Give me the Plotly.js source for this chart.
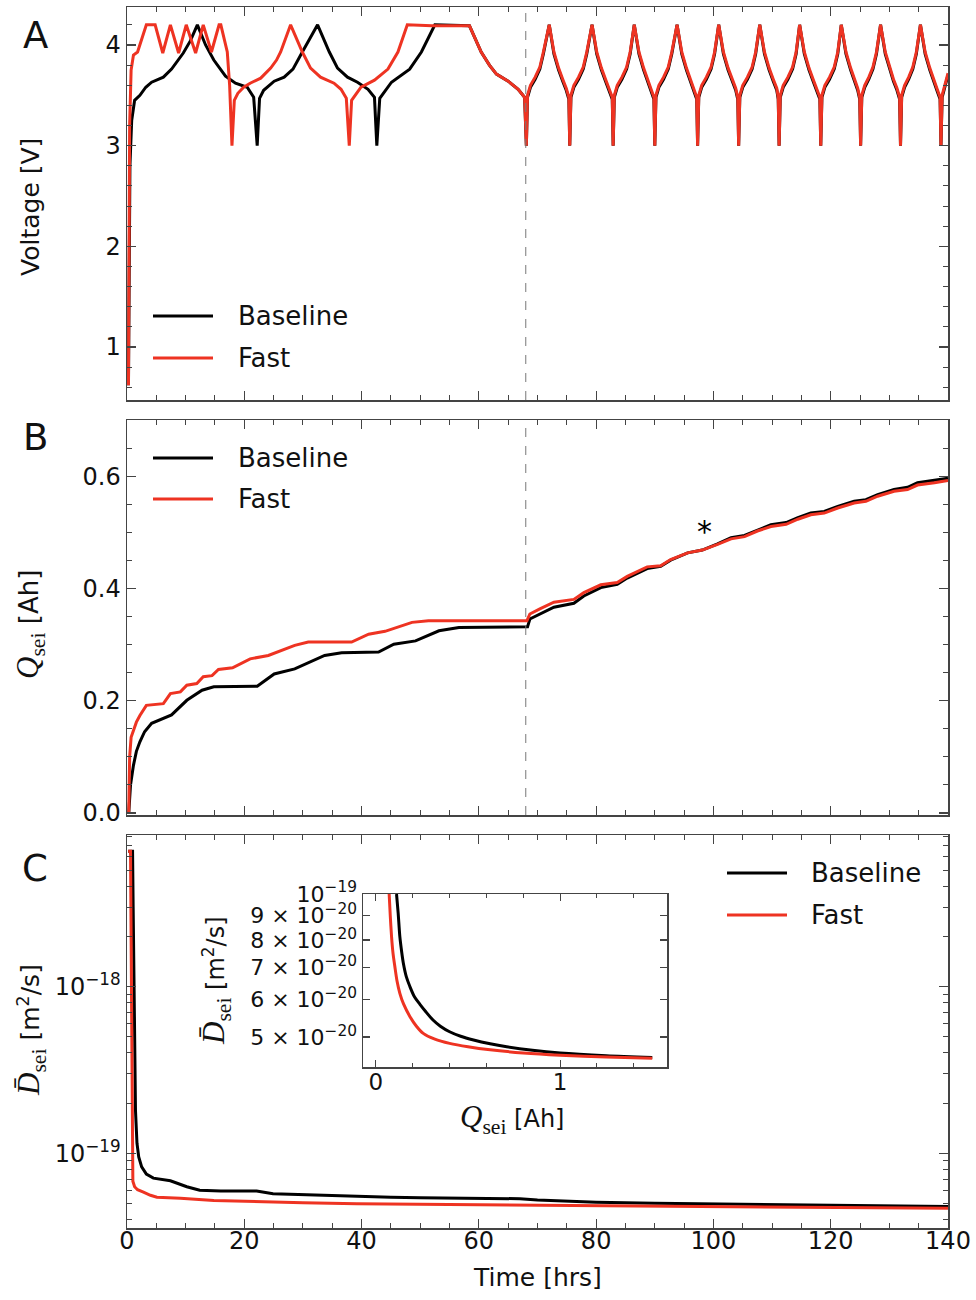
<!DOCTYPE html>
<html><head><meta charset="utf-8">
<script src="https://cdn.plot.ly/plotly-3.0.1.min.js"></script>
<style>body{margin:0;background:#fff}</style>
</head><body><div id="chart" style="width:976px;height:1300px"></div>
<script>
// ---------- Panel A: voltage ----------
const voltTimeBase1 = [0.25,0.5,0.8,1.3,2.2,3.2,4.2,6.2,7.6,9.6,10.8,12.0,13.4,14.8,16.8,18.5,20.5,21.6,22.2,
  22.6,23.3,25.1,26.8,28.3,29.9,32.5,34.5,35.9,37.6,39.3,41.1,42.2,42.6,
  43.1,45.1,46.8,48.2,50.2,52.5,58.4,60.4,61.8,63.0,65.0,66.7,67.8,68.1];
const voltBase1 = [0.62,2.8,3.25,3.45,3.5,3.58,3.63,3.68,3.76,3.92,4.04,4.2,4.0,3.85,3.69,3.62,3.58,3.48,3.0,
  3.47,3.55,3.64,3.68,3.76,3.93,4.2,3.93,3.77,3.68,3.63,3.56,3.48,3.0,
  3.47,3.63,3.7,3.76,3.93,4.2,4.19,3.93,3.8,3.71,3.64,3.56,3.48,3.0];
const voltTimeFast1 = [0.25,0.45,0.7,1.1,1.8,2.5,3.3,4.8,6.1,7.4,8.8,10.1,11.7,13.0,14.4,15.7,16.0,17.1,17.5,17.9,
  18.3,18.9,19.9,21.0,22.8,24.5,25.5,26.2,27.9,29.9,31.3,33.0,35.3,36.5,37.4,37.9,
  38.3,39.9,42.2,44.5,46.2,47.8,52.0,58.4,60.4,61.8,63.0,65.0,66.7,67.8,68.1];
const voltFast1 = [0.62,3.2,3.75,3.9,3.93,4.05,4.2,4.2,3.92,4.2,3.92,4.2,3.92,4.2,3.93,4.2,4.2,3.93,3.6,3.0,
  3.45,3.52,3.58,3.62,3.67,3.77,3.85,3.93,4.2,3.93,3.77,3.68,3.62,3.56,3.47,3.0,
  3.45,3.58,3.65,3.76,3.93,4.2,4.19,4.19,3.93,3.8,3.71,3.64,3.56,3.48,3.0];
const cycleTime = [
  68.3,68.8,69.6,70.4,71.0,72.0,72.8,73.6,74.3,74.9,75.35,75.5,
  75.7,76.2,77.0,77.8,78.4,79.3,80.1,80.9,81.6,82.2,82.75,82.9,
  83.1,83.6,84.4,85.2,85.8,86.5,87.3,88.1,88.8,89.4,89.85,90.0,
  90.2,90.7,91.5,92.3,92.9,93.8,94.6,95.4,96.1,96.7,97.15,97.3,
  97.5,98.0,98.8,99.6,100.2,100.9,101.7,102.5,103.2,103.8,104.15,104.3,
  104.5,105.0,105.8,106.6,107.2,107.9,108.7,109.5,110.2,110.8,111.05,111.2,
  111.4,111.9,112.7,113.5,114.1,114.7,115.5,116.3,117.0,117.6,118.15,118.3,
  118.5,119.0,119.8,120.6,121.2,121.8,122.6,123.4,124.1,124.6,124.95,125.1,
  125.3,125.8,126.5,127.2,127.8,128.5,129.3,130.1,130.7,131.3,131.75,131.9,
  132.1,132.6,133.3,134.0,134.6,135.3,136.1,136.9,137.5,138.1,138.65,138.8,
  139.0,139.5,140.0];
const cycleVoltFast = [
  3.50,3.60,3.68,3.78,3.93,4.20,3.93,3.77,3.66,3.57,3.48,3.00,
  3.50,3.60,3.68,3.78,3.93,4.20,3.93,3.77,3.66,3.57,3.48,3.00,
  3.50,3.60,3.68,3.78,3.93,4.20,3.93,3.77,3.66,3.57,3.48,3.00,
  3.50,3.60,3.68,3.78,3.93,4.20,3.93,3.77,3.66,3.57,3.48,3.00,
  3.50,3.60,3.68,3.78,3.93,4.20,3.93,3.77,3.66,3.57,3.48,3.00,
  3.50,3.60,3.68,3.78,3.93,4.20,3.93,3.77,3.66,3.57,3.48,3.00,
  3.50,3.60,3.68,3.78,3.93,4.20,3.93,3.77,3.66,3.57,3.48,3.00,
  3.50,3.60,3.68,3.78,3.93,4.20,3.93,3.77,3.66,3.57,3.48,3.00,
  3.50,3.60,3.68,3.78,3.93,4.20,3.93,3.77,3.66,3.57,3.48,3.00,
  3.50,3.60,3.68,3.78,3.93,4.20,3.93,3.77,3.66,3.57,3.48,3.00,
  3.50,3.60,3.72];
const cycleVoltBase = [
  3.48,3.58,3.66,3.76,3.91,4.20,3.91,3.75,3.64,3.55,3.46,3.00,
  3.48,3.58,3.66,3.76,3.91,4.20,3.91,3.75,3.64,3.55,3.46,3.00,
  3.48,3.58,3.66,3.76,3.91,4.20,3.91,3.75,3.64,3.55,3.46,3.00,
  3.48,3.58,3.66,3.76,3.91,4.20,3.91,3.75,3.64,3.55,3.46,3.00,
  3.48,3.58,3.66,3.76,3.91,4.20,3.91,3.75,3.64,3.55,3.46,3.00,
  3.48,3.58,3.66,3.76,3.91,4.20,3.91,3.75,3.64,3.55,3.46,3.00,
  3.48,3.58,3.66,3.76,3.91,4.20,3.91,3.75,3.64,3.55,3.46,3.00,
  3.48,3.58,3.66,3.76,3.91,4.20,3.91,3.75,3.64,3.55,3.46,3.00,
  3.48,3.58,3.66,3.76,3.91,4.20,3.91,3.75,3.64,3.55,3.46,3.00,
  3.48,3.58,3.66,3.76,3.91,4.20,3.91,3.75,3.64,3.55,3.46,3.00,
  3.48,3.58,3.70];

// ---------- Panel B: Q_sei ----------
const qTimeBase = [0.3,0.6,1.1,1.6,2.2,3.0,4.2,6.2,7.6,10.2,12.8,14.8,22.2,25.1,28.6,33.7,36.6,42.9,45.5,49.2,53.2,56.6,68.3,
  68.7,70.4,72.8,76.2,77.9,80.8,83.6,85.3,88.7,91.0,92.7,95.6,98.1,100.7,103.0,105.3,107.5,109.8,112.4,114.4,116.6,118.9,121.2,124.0,126.0,128.0,130.8,133.1,134.8,137.7,140.0];
const qBase = [0.0,0.05,0.085,0.11,0.127,0.145,0.160,0.168,0.175,0.201,0.219,0.225,0.226,0.248,0.257,0.281,0.286,0.287,0.301,0.307,0.325,0.331,0.332,
  0.346,0.355,0.367,0.374,0.387,0.402,0.408,0.419,0.436,0.440,0.451,0.464,0.469,0.480,0.491,0.495,0.505,0.514,0.518,0.527,0.535,0.538,0.547,0.556,0.559,0.568,0.577,0.581,0.589,0.593,0.597];
const qTimeFast = [0.3,0.45,0.7,1.1,1.6,2.2,3.3,6.2,7.4,9.1,10.2,11.9,13.0,14.5,15.6,18.0,21.0,24.1,28.6,30.9,38.3,41.2,44.0,48.6,51.4,68.2,
  68.7,70.4,72.8,76.2,77.9,80.8,83.6,85.3,88.7,91.0,92.7,95.6,98.1,100.7,103.0,105.3,107.5,109.8,112.4,114.4,116.6,118.9,121.2,124.0,126.0,128.0,130.8,133.1,134.8,137.7,140.0];
const qFast = [0.0,0.1,0.135,0.148,0.162,0.174,0.192,0.195,0.213,0.216,0.228,0.231,0.243,0.245,0.256,0.259,0.275,0.281,0.299,0.305,0.305,0.319,0.324,0.340,0.343,0.343,
  0.355,0.364,0.376,0.381,0.393,0.407,0.411,0.422,0.439,0.441,0.452,0.464,0.469,0.479,0.489,0.493,0.503,0.511,0.515,0.524,0.532,0.535,0.544,0.553,0.556,0.565,0.574,0.577,0.585,0.589,0.593];

// ---------- Panel C: D_sei ----------
const dTimeBase = [0.2,0.95,1.05,1.15,1.3,1.45,1.7,2.0,2.5,3.3,4.5,6.0,7.4,10.2,12.4,16,22.1,24.9,30,35,39.2,45,50,55,60,67,70,75,80,90,100,110,120,130,140];
const dBase = [6.5e-18,6.5e-18,3.0e-18,1.2e-18,4.0e-19,1.8e-19,1.15e-19,9.5e-20,8.3e-20,7.5e-20,7.1e-20,7.0e-20,6.85e-20,6.3e-20,6.0e-20,5.95e-20,5.95e-20,5.72e-20,5.65e-20,5.55e-20,5.47e-20,5.45e-20,5.42e-20,5.38e-20,5.36e-20,5.34e-20,5.25e-20,5.15e-20,5.09e-20,5.02e-20,4.97e-20,4.92e-20,4.87e-20,4.83e-20,4.8e-20];
const dTimeFast = [0.2,0.6,0.68,0.75,0.82,0.9,1.0,1.3,1.8,2.8,4.0,5.1,9.1,14.8,20,23.9,30,39.2,50,60,70,80.7,90,100,110,120,130,140];
const dFast = [6.5e-18,6.5e-18,2.5e-18,8e-19,2e-19,9e-20,6.8e-20,6.3e-20,6.05e-20,5.85e-20,5.6e-20,5.45e-20,5.38e-20,5.21e-20,5.14e-20,5.09e-20,5.05e-20,4.98e-20,4.95e-20,4.92e-20,4.89e-20,4.86e-20,4.83e-20,4.8e-20,4.77e-20,4.73e-20,4.7e-20,4.68e-20];

// ---------- Inset: D_sei vs Q_sei ----------
const insetQBase = [0.112,0.121,0.13,0.14,0.149,0.165,0.185,0.21,0.239,0.27,0.31,0.35,0.40,0.46,0.53,0.62,0.71,0.85,1.0,1.25,1.5];
const insetDBase = [10e-20,9.1e-20,8.13e-20,7.55e-20,7.15e-20,6.7e-20,6.38e-20,6.07e-20,5.86e-20,5.66e-20,5.43e-20,5.27e-20,5.13e-20,5.02e-20,4.93e-20,4.84e-20,4.77e-20,4.69e-20,4.63e-20,4.57e-20,4.53e-20];
const insetQFast = [0.072,0.078,0.085,0.093,0.103,0.115,0.13,0.15,0.185,0.22,0.257,0.32,0.40,0.5,0.62,0.8,1.0,1.25,1.5];
const insetDFast = [10e-20,9.0e-20,8.13e-20,7.5e-20,7.03e-20,6.55e-20,6.18e-20,5.87e-20,5.52e-20,5.27e-20,5.09e-20,4.95e-20,4.85e-20,4.77e-20,4.70e-20,4.63e-20,4.58e-20,4.54e-20,4.51e-20];

const seriesNames = ['Baseline','Fast'];
const timeTicks = [0,20,40,60,80,100,120,140];
const voltTicks = [1,2,3,4];
const qTicks = [0,0.2,0.4,0.6];
const qTickText = ['0.0','0.2','0.4','0.6'];
const dTicks = [1e-19,1e-18];
const dTickText = ['10<sup>−19</sup>','10<sup>−18</sup>'];
const insetYTicks = [5e-20,6e-20,7e-20,8e-20,9e-20,1e-19];
const insetYTickText = ['5 × 10<sup>−20</sup>','6 × 10<sup>−20</sup>','7 × 10<sup>−20</sup>','8 × 10<sup>−20</sup>','9 × 10<sup>−20</sup>','10<sup>−19</sup>'];
const insetXTicks = [0,1];
const cutTime = 68;

// ---------- build ----------
const W = 976, H = 1300;
const BLACK = '#000000', RED = '#ee3322';
const SANS = 'DejaVu Sans, Liberation Sans, sans-serif';
const SERIF = "'Liberation Serif'";
const px = (x) => x / W;
const py = (y) => 1 - y / H;

const logMinor = [];
[-20,-19,-18].forEach(d => { for (let m = 2; m <= 9; m++) logMinor.push(m * Math.pow(10, d)); });

function mn(extra) {
  return Object.assign({ticks: 'inside', ticklen: 5, tickwidth: 1, tickcolor: '#444', showgrid: false}, extra);
}
function ax(extra) {
  return Object.assign({
    showline: true, linecolor: '#444', linewidth: 1.5, mirror: 'allticks',
    ticks: 'inside', ticklen: 9, tickwidth: 1.2, tickcolor: '#444',
    showgrid: false, zeroline: false,
    tickfont: {family: SANS, size: 24, color: '#111'}
  }, extra);
}

const xDom = [px(127), px(948)];
const traces = [
  {x: voltTimeBase1.concat(cycleTime), y: voltBase1.concat(cycleVoltBase), xaxis: 'x', yaxis: 'y', name: seriesNames[0], mode: 'lines', line: {color: BLACK, width: 3}},
  {x: voltTimeFast1.concat(cycleTime), y: voltFast1.concat(cycleVoltFast), xaxis: 'x', yaxis: 'y', name: seriesNames[1], mode: 'lines', line: {color: RED, width: 3}},
  {x: qTimeBase, y: qBase, xaxis: 'x2', yaxis: 'y2', name: seriesNames[0], mode: 'lines', line: {color: BLACK, width: 3}},
  {x: qTimeFast, y: qFast, xaxis: 'x2', yaxis: 'y2', name: seriesNames[1], mode: 'lines', line: {color: RED, width: 3}},
  {x: dTimeBase, y: dBase, xaxis: 'x3', yaxis: 'y3', name: seriesNames[0], mode: 'lines', line: {color: BLACK, width: 3}},
  {x: dTimeFast, y: dFast, xaxis: 'x3', yaxis: 'y3', name: seriesNames[1], mode: 'lines', line: {color: RED, width: 3}},
  {x: insetQBase, y: insetDBase, xaxis: 'x4', yaxis: 'y4', name: seriesNames[0], mode: 'lines', line: {color: BLACK, width: 3, shape: 'spline', smoothing: 0.8}},
  {x: insetQFast, y: insetDFast, xaxis: 'x4', yaxis: 'y4', name: seriesNames[1], mode: 'lines', line: {color: RED, width: 3, shape: 'spline', smoothing: 0.8}}
];

const layout = {
  width: W, height: H, margin: {l: 0, r: 0, t: 0, b: 0},
  paper_bgcolor: '#fff', plot_bgcolor: '#fff', showlegend: false,
  font: {family: SANS, color: '#111'},
  xaxis: ax({domain: xDom, anchor: 'y', range: [0, 140], tickvals: timeTicks, showticklabels: false, minor: mn({dtick: 5})}),
  yaxis: ax({domain: [py(400), py(7)], anchor: 'x', range: [0.4735, 4.377], tickvals: voltTicks, ticklabelstandoff: 0, minor: mn({dtick: 0.2})}),
  xaxis2: ax({domain: xDom, anchor: 'y2', range: [0, 140], tickvals: timeTicks, showticklabels: false, minor: mn({dtick: 5})}),
  yaxis2: ax({domain: [py(815), py(420)], anchor: 'x2', range: [-0.0036, 0.701], tickvals: qTicks, ticktext: qTickText, ticklabelstandoff: 0, minor: mn({dtick: 0.05})}),
  xaxis3: ax({domain: xDom, anchor: 'y3', range: [0, 140], tickvals: timeTicks, ticklabelstandoff: -9, minor: mn({dtick: 5})}),
  yaxis3: ax({domain: [py(1228), py(835)], anchor: 'x3', type: 'log', range: [-19.448, -17.09], tickvals: dTicks, ticktext: dTickText, ticklabelstandoff: 0, minor: mn({tickmode: 'array', tickvals: logMinor})}),
  xaxis4: ax({domain: [px(363), px(667)], anchor: 'y4', range: [-0.07, 1.58], tickvals: insetXTicks, ticklen: 7, tickfont: {family: SANS, size: 23, color: '#111'}, ticklabelstandoff: -6, minor: mn({dtick: 0.2, ticklen: 4})}),
  yaxis4: ax({domain: [py(1067), py(894)], anchor: 'x4', type: 'log', range: [-19.364, -19.0], tickvals: insetYTicks, ticktext: insetYTickText, ticklen: 7, tickfont: {family: SANS, size: 22, color: '#111'}, ticklabelstandoff: 0}),
  shapes: [
    {type: 'line', xref: 'x', yref: 'y domain', x0: cutTime, x1: cutTime, y0: 0, y1: 1, line: {color: '#777', width: 1, dash: 'dash'}},
    {type: 'line', xref: 'x2', yref: 'y2 domain', x0: cutTime, x1: cutTime, y0: 0, y1: 1, line: {color: '#777', width: 1, dash: 'dash'}},
    // legend samples
    {type: 'line', xref: 'paper', yref: 'paper', x0: px(153), x1: px(213), y0: py(316), y1: py(316), line: {color: BLACK, width: 3}},
    {type: 'line', xref: 'paper', yref: 'paper', x0: px(153), x1: px(213), y0: py(358), y1: py(358), line: {color: RED, width: 3}},
    {type: 'line', xref: 'paper', yref: 'paper', x0: px(153), x1: px(213), y0: py(458), y1: py(458), line: {color: BLACK, width: 3}},
    {type: 'line', xref: 'paper', yref: 'paper', x0: px(153), x1: px(213), y0: py(499), y1: py(499), line: {color: RED, width: 3}},
    {type: 'line', xref: 'paper', yref: 'paper', x0: px(727), x1: px(787), y0: py(873), y1: py(873), line: {color: BLACK, width: 3}},
    {type: 'line', xref: 'paper', yref: 'paper', x0: px(727), x1: px(787), y0: py(915), y1: py(915), line: {color: RED, width: 3}}
  ],
  annotations: []
};

function note(text, x, y, size, opts) {
  layout.annotations.push(Object.assign({text: text, xref: 'paper', yref: 'paper', x: px(x), y: py(y),
    xanchor: 'center', yanchor: 'middle', showarrow: false, font: {family: SANS, size: size, color: '#111'}}, opts || {}));
}
// legend texts
note(seriesNames[0], 236, 316, 26, {xanchor: 'left'});
note(seriesNames[1], 236, 358, 26, {xanchor: 'left'});
note(seriesNames[0], 236, 458, 26, {xanchor: 'left'});
note(seriesNames[1], 236, 499, 26, {xanchor: 'left'});
note(seriesNames[0], 809, 873, 26, {xanchor: 'left'});
note(seriesNames[1], 809, 915, 26, {xanchor: 'left'});
// panel letters
note('A', 35, 35, 37);
note('B', 35, 437, 37);
note('C', 35, 868, 37);
// axis titles
const qLabel = '<span style="font-family:' + SERIF + ';font-size:31px"><i>Q</i><sub>sei</sub></span> [Ah]';
const dLabel = '<span style="font-family:' + SERIF + ';font-size:31px"><i>D\u0304</i><sub>sei</sub></span> [m<sup>2</sup>/s]';
note('Voltage [V]', 30, 207, 25, {textangle: -90});
note(qLabel, 30, 625, 26, {textangle: -90});
note(dLabel, 31, 1030, 25, {textangle: -90});
note('Time [hrs]', 537, 1277, 25);
note(dLabel, 216, 981, 24, {textangle: -90});
note(qLabel, 512, 1119, 24);
// asterisk marker
layout.annotations.push({text: '*', xref: 'x2', yref: 'y2', x: 98.4, y: 0.503, showarrow: false,
  font: {family: SANS, size: 30, color: '#000'}, xanchor: 'center', yanchor: 'middle'});

Plotly.newPlot('chart', traces, layout, {staticPlot: true});
</script></body></html>
